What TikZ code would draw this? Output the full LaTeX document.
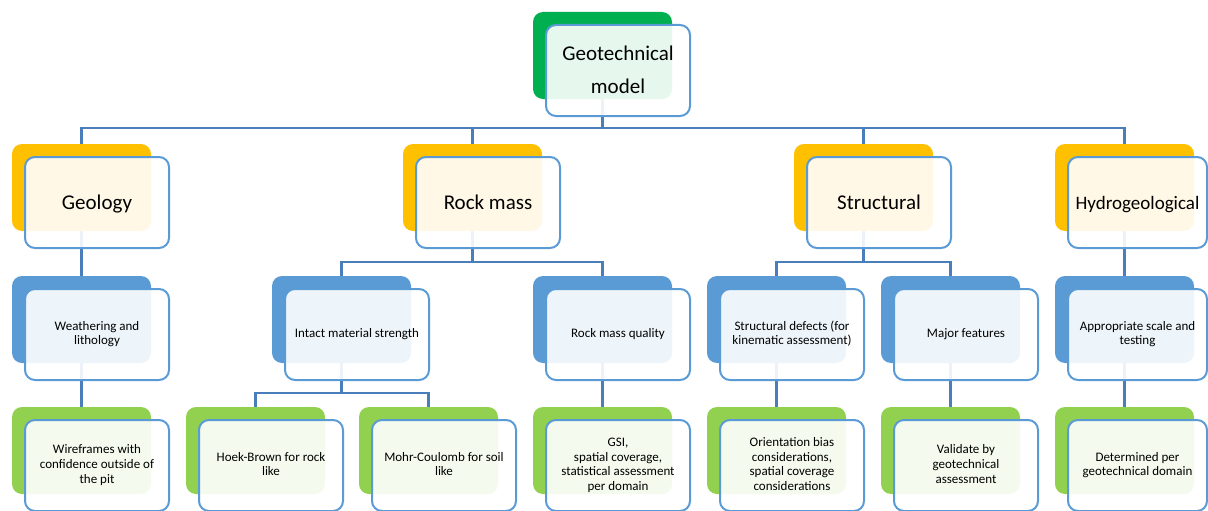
\documentclass[tikz,border=0pt]{standalone}
\usepackage{fontspec}
\setmainfont{Carlito}
\pgfdeclarelayer{bg}
\pgfsetlayers{bg,main}
\definecolor{topgreen}{HTML}{00B050}
\definecolor{gold}{HTML}{FFC000}
\definecolor{midblue}{HTML}{5B9BD5}
\definecolor{lightgreen}{HTML}{92D050}
\definecolor{frontblue}{HTML}{5B9BD5}
\definecolor{connblue}{HTML}{4A7EBB}
\newcommand\mkbox[6]{%
  \node[backbox, fill=#4] (#1b) at (#2,#3) {};
  \node[frontbox, #5] (#1) at ({#2+13},{#3+13}) {\strut#6\strut};}
\begin{document}
\begin{tikzpicture}[x=1pt,y=-1pt,
  backbox/.style={rectangle, rounded corners=10pt, minimum width=139pt, minimum height=87pt, inner sep=0pt, outer sep=0pt, anchor=north west, draw=none},
  frontbox/.style={rectangle, rounded corners=10pt, minimum width=144pt, minimum height=91pt, inner sep=0pt, outer sep=0pt, anchor=north west, draw=frontblue, line width=2pt, fill=white, fill opacity=0.9, text opacity=1, align=center, text=black},
  bigtext/.style={font=\fontsize{21}{33}\selectfont},
  hydrotext/.style={font=\fontsize{19}{33}\selectfont},
  smalltext/.style={font=\fontsize{13}{14.8}\selectfont},
  lastcol/.style={minimum width=139pt},
  conn/.style={draw=connblue, line width=2.2pt}]
\useasboundingbox (0,0) rectangle (1208,511);
% level 1
\mkbox{top}{533}{12}{topgreen}{bigtext}{Geotechnical\\model}
% level 2
\mkbox{geo}{12}{144}{gold}{bigtext}{Geology}
\mkbox{rock}{403}{144}{gold}{bigtext}{Rock mass}
\mkbox{struct}{794}{144}{gold}{bigtext}{Structural}
\mkbox{hydro}{1055}{144}{gold}{hydrotext,lastcol}{Hydrogeological}
% level 3
\mkbox{weath}{12}{276}{midblue}{smalltext}{Weathering and\\lithology}
\mkbox{intact}{272}{276}{midblue}{smalltext}{Intact material strength}
\mkbox{rmq}{533}{276}{midblue}{smalltext}{Rock mass quality}
\mkbox{sdef}{707}{276}{midblue}{smalltext}{Structural defects (for\\kinematic assessment)}
\mkbox{major}{881}{276}{midblue}{smalltext}{Major features}
\mkbox{approp}{1055}{276}{midblue}{smalltext,lastcol}{Appropriate scale and\\testing}
% level 4
\mkbox{wire}{12}{407}{lightgreen}{smalltext}{Wireframes with\\confidence outside of\\the pit}
\mkbox{hoek}{186}{407}{lightgreen}{smalltext}{Hoek-Brown for rock\\like}
\mkbox{mohr}{359}{407}{lightgreen}{smalltext}{Mohr-Coulomb for soil\\like}
\mkbox{gsi}{533}{407}{lightgreen}{smalltext}{GSI,\\spatial coverage,\\statistical assessment\\per domain}
\mkbox{orient}{707}{407}{lightgreen}{smalltext}{Orientation bias\\considerations,\\spatial coverage\\considerations}
\mkbox{valid}{881}{407}{lightgreen}{smalltext}{Validate by\\geotechnical\\assessment}
\mkbox{determ}{1055}{407}{lightgreen}{smalltext,lastcol}{Determined per\\geotechnical domain}
% connectors
\coordinate (h1) at (0,128);
\coordinate (h2) at (0,262);
\coordinate (h3) at (0,393);
\begin{pgfonlayer}{bg}
\foreach \c in {geob,rockb,structb,hydrob}
  \draw[conn] (topb.south) -- (topb.south |- h1) -| (\c.north);
\foreach \c in {intactb,rmqb}
  \draw[conn] (rockb.south) -- (rockb.south |- h2) -| (\c.north);
\foreach \c in {sdefb,majorb}
  \draw[conn] (structb.south) -- (structb.south |- h2) -| (\c.north);
\draw[conn] (geob.south) -- (weathb.north);
\draw[conn] (hydrob.south) -- (appropb.north);
\foreach \c in {hoekb,mohrb}
  \draw[conn] (intactb.south) -- (intactb.south |- h3) -| (\c.north);
\draw[conn] (weathb.south) -- (wireb.north);
\draw[conn] (rmqb.south) -- (gsib.north);
\draw[conn] (sdefb.south) -- (orientb.north);
\draw[conn] (majorb.south) -- (validb.north);
\draw[conn] (appropb.south) -- (determb.north);
\end{pgfonlayer}
\end{tikzpicture}
\end{document}
